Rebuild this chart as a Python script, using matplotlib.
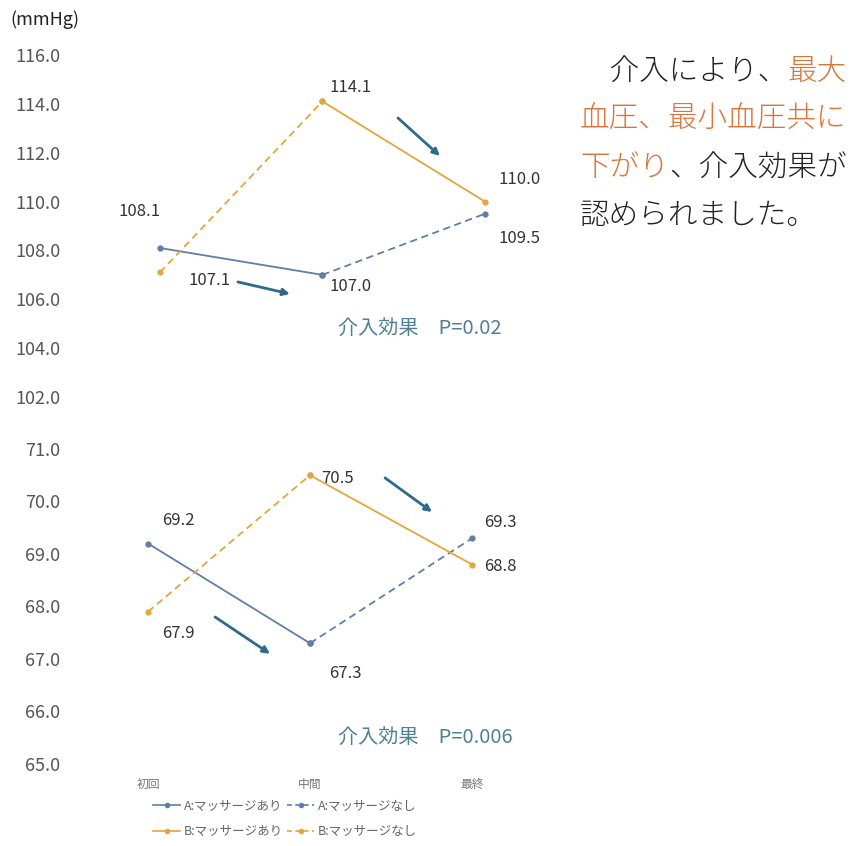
import matplotlib
matplotlib.use("Agg")
import matplotlib.pyplot as plt
from matplotlib.lines import Line2D

plt.rcParams['font.family'] = ['Noto Sans CJK JP', 'DejaVu Sans']

# categories (x axis)
stages = ['初回', '中間', '最終']

# systolic (top panel), mmHg
sys_a = [108.1, 107.0, 109.5]   # A: massage first half
sys_b = [107.1, 114.1, 110.0]   # B: massage second half
# diastolic (bottom panel), mmHg
dia_a = [69.2, 67.3, 69.3]
dia_b = [67.9, 70.5, 68.8]

sys_ticks = [102, 104, 106, 108, 110, 112, 114, 116]
dia_ticks = [65, 66, 67, 68, 69, 70, 71]

p_top = '介入効果\u3000P=0.02'
p_bottom = '介入効果\u3000P=0.006'

legend_labels = ['A:マッサージあり', 'A:マッサージなし', 'B:マッサージあり', 'B:マッサージなし']

BLUE = '#5f7fa8'
ORANGE = '#e2a73c'
ARROW = '#2f6a8c'
PCOL = '#4f8094'
TXT = '#333333'
TICK = '#555555'

W, H = 867, 846
fig = plt.figure(figsize=(W / 100, H / 100), dpi=100)


def px_axes(x0, x1, y_top, y_bot):
    return fig.add_axes([x0 / W, 1 - y_bot / H, (x1 - x0) / W, (y_bot - y_top) / H])


ax1 = px_axes(66, 560, 55, 397)
ax2 = px_axes(66, 560, 449, 764)
ax1.set_xlim(-0.578, 2.462)
ax1.set_ylim(102, 116)
ax2.set_xlim(-0.506, 2.543)
ax2.set_ylim(65, 71)


def draw_pair(ax, a, b):
    # A: massage on first interval (solid), none afterwards (dashed)
    kw = dict(lw=1.3, marker='o', ms=3.5, clip_on=False)
    ax.plot([0, 1], a[:2], color=BLUE, ls='-', **kw)
    ax.plot([1, 2], a[1:], color=BLUE, ls=(0, (4, 2.5)), **kw)
    ax.plot([0, 1], b[:2], color=ORANGE, ls=(0, (4, 2.5)), **kw)
    ax.plot([1, 2], b[1:], color=ORANGE, ls='-', **kw)


draw_pair(ax1, sys_a, sys_b)
draw_pair(ax2, dia_a, dia_b)


def label(ax, x, y, dx, dy):
    ax.annotate(f'{y:.1f}', (x, y), xytext=(dx, dy), textcoords='offset pixels',
                ha='center', va='center', fontsize=12, color=TXT)


# value labels (offsets in pixels)
top_a_off = [(-20, 36), (28, -12), (35, -25)]
top_b_off = [(50, -8), (28, 14), (35, 22)]
bot_a_off = [(30, 23), (35, -30), (28, 16)]
bot_b_off = [(30, -22), (27, -3), (28, -2)]
for i in range(3):
    label(ax1, i, sys_a[i], *top_a_off[i])
    label(ax1, i, sys_b[i], *top_b_off[i])
    label(ax2, i, dia_a[i], *bot_a_off[i])
    label(ax2, i, dia_b[i], *bot_b_off[i])

# trend arrows
arrows_top = [((1.465, 113.42), (1.723, 111.87)), ((0.48, 106.71), (0.80, 106.22))]
arrows_bot = [((1.463, 70.45), (1.753, 69.8)), ((0.414, 67.8), (0.753, 67.1))]
for ax, arrs in ((ax1, arrows_top), (ax2, arrows_bot)):
    for s, e in arrs:
        ax.annotate('', xy=e, xytext=s,
                    arrowprops=dict(arrowstyle='-|>', color=ARROW, lw=2,
                                    mutation_scale=10, shrinkA=0, shrinkB=0))

ax1.text(1.095, 104.8, p_top, fontsize=14.5, color=PCOL, ha='left', va='center')
ax2.text(1.173, 65.51, p_bottom, fontsize=14.5, color=PCOL, ha='left', va='center')

for ax, ticks in ((ax1, sys_ticks), (ax2, dia_ticks)):
    ax.set_yticks(ticks)
    ax.set_yticklabels([f'{t:.1f}' for t in ticks])
    ax.tick_params(axis='y', length=0, pad=4, labelsize=13, labelcolor=TICK)
    for sp in ax.spines.values():
        sp.set_visible(False)
    ax.set_facecolor('none')

ax1.set_xticks([])
ax2.set_xticks(range(3))
ax2.set_xticklabels(stages)
ax2.tick_params(axis='x', length=0, pad=10, labelsize=8.5, labelcolor='#777777')

fig.text(10 / W, 1 - 20 / H, '(mmHg)', fontsize=13, color='#222222', ha='left', va='center')

# legend: column-wise fill, so order gives rows A / B
handles = [
    Line2D([], [], color=BLUE, lw=1.2, marker='o', ms=3),
    Line2D([], [], color=ORANGE, lw=1.2, marker='o', ms=3),
    Line2D([], [], color=BLUE, lw=1.2, ls=(0, (3, 2)), marker='o', ms=3),
    Line2D([], [], color=ORANGE, lw=1.2, ls=(0, (3, 2)), marker='o', ms=3),
]
labels = [legend_labels[0], legend_labels[2], legend_labels[1], legend_labels[3]]
fig.legend(handles, labels, ncol=2, loc='center', bbox_to_anchor=(285 / W, 1 - 819 / H),
           frameon=False, fontsize=9, labelcolor='#666666', handlelength=2.2,
           handletextpad=0.3, columnspacing=0.3, labelspacing=1.0)

# side comment with coloured phrases
ORG = '#d9753a'
lines = [
    [('\u3000介入により、', '#222222'), ('最大', ORG)],
    [('血圧、最小血圧共に', ORG)],
    [('下がり', ORG), ('、介入効果が', '#222222')],
    [('認められました。', '#222222')],
]
fig.canvas.draw()
renderer = fig.canvas.get_renderer()
for k, parts in enumerate(lines):
    x = 580
    y = 72 + 48 * k
    for txt, col in parts:
        t = fig.text(x / W, 1 - y / H, txt, fontsize=21.3, color=col, ha='left', va='center',
                     fontweight='light')
        bb = t.get_window_extent(renderer)
        x = bb.x1

fig.savefig('out.png', dpi=100, facecolor='white')
